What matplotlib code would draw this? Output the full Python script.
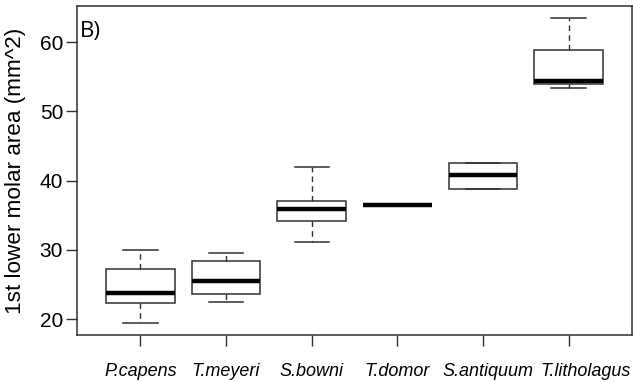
import matplotlib
matplotlib.use("Agg")
import matplotlib.pyplot as plt
import matplotlib.transforms as mtransforms

species = ["P.capens", "T.meyeri", "S.bowni", "T.domor", "S.antiquum", "T.litholagus"]
whisker_low = [19.5, 22.4, 31.1, 36.4, 38.8, 53.3]
q1 = [22.3, 23.6, 34.1, 36.4, 38.8, 53.9]
median = [23.8, 25.5, 35.85, 36.4, 40.85, 54.4]
q3 = [27.2, 28.4, 37.05, 36.4, 42.6, 58.8]
whisker_high = [30.0, 29.5, 42.0, 36.4, 42.6, 63.5]
yticks = [20, 30, 40, 50, 60]

stats = []
for i, name in enumerate(species):
    stats.append(dict(label=name, whislo=whisker_low[i], q1=q1[i], med=median[i],
                      q3=q3[i], whishi=whisker_high[i], fliers=[]))

fig = plt.figure(figsize=(6.33, 3.82), dpi=100)
ax = fig.add_axes([77/633, 1-335/382, (632-77)/633, (335-6)/382])

edge = "#303030"
ax.bxp(stats, positions=range(1, 7), widths=0.8, showfliers=False,
       patch_artist=True,
       boxprops=dict(facecolor="white", edgecolor=edge, linewidth=1.1),
       medianprops=dict(color="black", linewidth=3.2, solid_capstyle="butt"),
       whiskerprops=dict(color=edge, linewidth=1.0, linestyle=(0, (4, 3))),
       capprops=dict(color=edge, linewidth=1.1),
       capwidths=0.4)

ax.set_xlim(0.26, 6.74)
ax.set_ylim(17.7, 65.2)
ax.set_yticks(yticks)
ax.set_yticklabels([str(v) for v in yticks], fontfamily="Liberation Sans", fontsize=15)
ax.set_xticks(range(1, 7))
ax.set_xticklabels(species, fontfamily="Liberation Sans", fontsize=13, fontstyle="italic")
ax.tick_params(axis="y", length=8, width=1, color=edge, pad=2)
ax.tick_params(axis="x", length=8, width=1, color=edge, pad=12)
for s in ax.spines.values():
    s.set_color(edge)
    s.set_linewidth(1.1)

labels = ax.get_xticklabels()
shifts_px = [0, 0, 0, 0, 5, 0]
for lab, dx in zip(labels, shifts_px):
    if dx:
        lab.set_transform(lab.get_transform() + mtransforms.ScaledTranslation(dx/100, 0, fig.dpi_scale_trans))
labels[-1].set_horizontalalignment("right")
labels[-1].set_transform(labels[-1].get_transform() + mtransforms.ScaledTranslation(62/100, 0, fig.dpi_scale_trans))

ax.set_ylabel("1st lower molar area (mm^2)", fontfamily="Liberation Sans", fontsize=16.2)
ax.yaxis.set_label_coords(-0.092, 0.5)
ax.text(0.005, (335-37)/329, "B)", transform=ax.transAxes, ha="left", va="baseline",
        fontfamily="Open Sans", fontsize=16)

fig.savefig("out.png", dpi=100)
